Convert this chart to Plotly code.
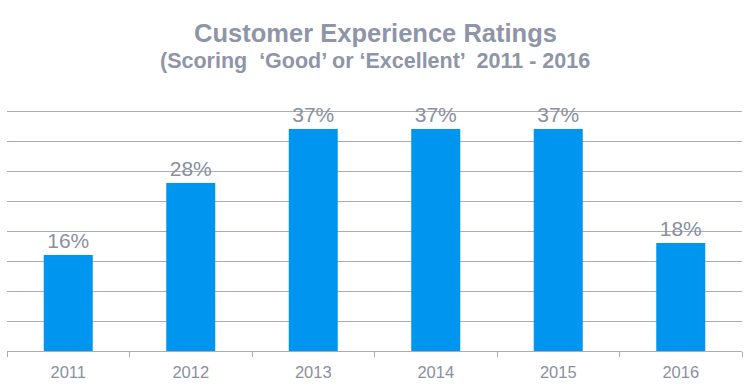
import plotly.graph_objects as go

years = ["2011", "2012", "2013", "2014", "2015", "2016"]
ratings = [16, 28, 37, 37, 37, 18]
labels = [f"{v}%" for v in ratings]

title_main = "Customer Experience Ratings"
title_sub = "(Scoring  \u2018Good\u2019 or \u2018Excellent\u2019  2011 - 2016"

txt = "#8A90A0"
grid = "#A9ACB8"
bar_color = "#0096F0"
font_family = "Liberation Sans, Arial, sans-serif"

fig = go.Figure(
    go.Bar(
        x=years,
        y=ratings,
        text=labels,
        textposition="outside",
        constraintext="none",
        cliponaxis=False,
        textfont=dict(size=21, color=txt, family=font_family),
        marker=dict(color=bar_color, line=dict(width=0)),
        hoverinfo="skip",
    )
)

fig.update_layout(
    width=751,
    height=387,
    margin=dict(l=7, r=9, t=108, b=36),
    paper_bgcolor="white",
    plot_bgcolor="white",
    bargap=0.6,
    showlegend=False,
    font=dict(family=font_family, color=txt),
    title=dict(
        text=f"<b>{title_main}</b>",
        x=0.5,
        xanchor="center",
        y=1 - 33 / 387,
        yanchor="middle",
        yref="container",
        font=dict(size=25.5, color="#8E95A8", family=font_family),
    ),
    annotations=[
        dict(
            text=f"<b>{title_sub}</b>",
            xref="paper",
            yref="paper",
            x=0.5,
            y=1 + (108 - 61) / 243,
            xanchor="center",
            yanchor="middle",
            showarrow=False,
            font=dict(size=21.5, color="#8E95A8", family=font_family),
        )
    ],
    xaxis=dict(
        type="category",
        showline=True,
        linecolor=grid,
        linewidth=1,
        ticks="outside",
        tickson="boundaries",
        ticklen=5,
        tickcolor=grid,
        ticklabelstandoff=6,
        tickfont=dict(size=16.5, color=txt, family=font_family),
        showgrid=False,
        fixedrange=True,
    ),
    yaxis=dict(
        range=[0, 40.5],
        dtick=5,
        showgrid=True,
        gridcolor=grid,
        gridwidth=1,
        showticklabels=False,
        zeroline=False,
        fixedrange=True,
    ),
)

fig.write_html(
    "out.html",
    config={"displayModeBar": False},
    post_script="document.body.style.margin='0';document.body.style.padding='0';",
)
